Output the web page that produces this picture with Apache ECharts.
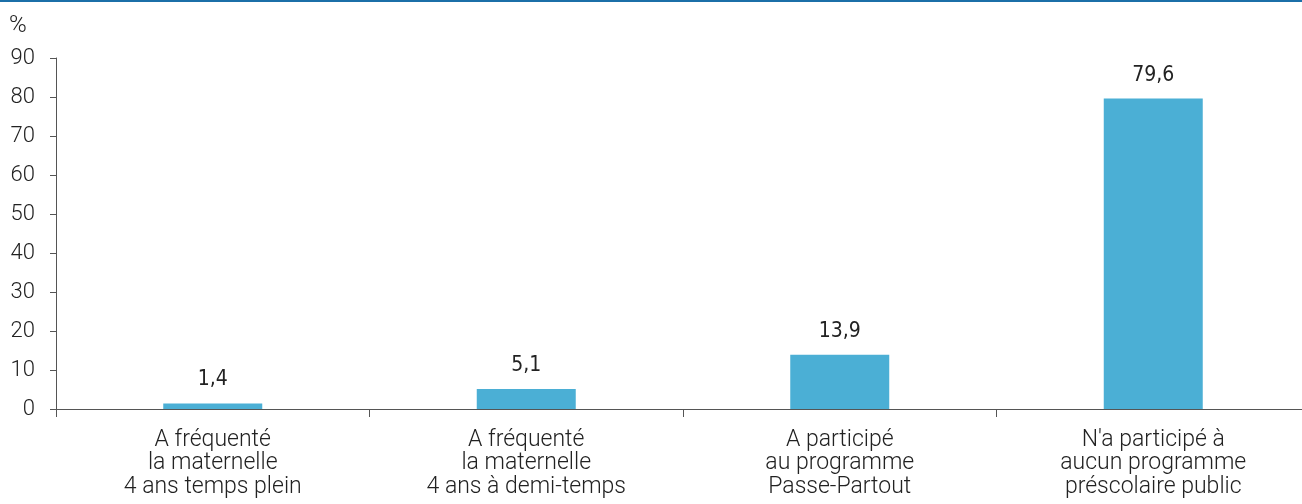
<!DOCTYPE html>
<html>
<head>
<meta charset="utf-8">
<script src="https://cdn.jsdelivr.net/npm/echarts@6/dist/echarts.min.js"></script>
<style>
  html, body { margin: 0; padding: 0; background: #fff; overflow: hidden; }
  /* the axis runs a few pixels past the right edge in the original */
  #chart { width: 1310px; height: 504px; }
</style>
</head>
<body>
<div id="chart"></div>
<script>
const categories = [
    'A fréquenté\nla maternelle\n4 ans temps plein',
    'A fréquenté\nla maternelle\n4 ans à demi-temps',
    'A participé\nau programme\nPasse-Partout',
    "N'a participé à\naucun programme\npréscolaire public"
];
const values = [1.4, 5.1, 13.9, 79.6];
const yTicks = { min: 0, max: 90, interval: 10 };

const axisColor = '#555';
const textFont = "Roboto, 'Liberation Sans', Arial, sans-serif";

var myChart = echarts.init(document.getElementById('chart'));
const option = {
    animation: false,
    grid: {
        left: 56,
        top: 58,
        right: 0,
        bottom: 95
    },
    graphic: [
        {
            type: 'rect',
            left: 0,
            top: 0,
            shape: { width: 1310, height: 2 },
            style: { fill: '#1b6fa8' }
        },
        {
            type: 'text',
            left: 9,
            top: 14,
            style: { text: '%', font: '300 24px ' + textFont, fill: '#222' }
        }
    ],
    xAxis: {
        type: 'category',
        data: categories,
        axisLine: { lineStyle: { color: axisColor, width: 1 } },
        axisTick: { show: true, length: 8, lineStyle: { color: axisColor } },
        axisLabel: {
            margin: 19,
            fontSize: 23,
            fontWeight: 300,
            lineHeight: 23.5,
            color: '#222',
            fontFamily: textFont
        }
    },
    yAxis: {
        type: 'value',
        min: yTicks.min,
        max: yTicks.max,
        interval: yTicks.interval,
        splitLine: { show: false },
        axisLine: { show: true, lineStyle: { color: axisColor, width: 1 } },
        axisTick: { show: true, length: 6, lineStyle: { color: axisColor } },
        axisLabel: {
            margin: 21,
            fontSize: 22,
            fontWeight: 300,
            color: '#222',
            fontFamily: textFont
        }
    },
    series: [
        {
            type: 'bar',
            data: values,
            barWidth: 99,
            itemStyle: { color: '#4bafd5' },
            label: {
                show: true,
                position: 'top',
                distance: 13,
                fontSize: 21,
                color: '#222',
                fontFamily: "'DejaVu Sans Condensed', sans-serif",
                formatter: p => String(p.value).replace('.', ',')
            }
        }
    ]
};
myChart.setOption(option);
</script>
</body>
</html>
